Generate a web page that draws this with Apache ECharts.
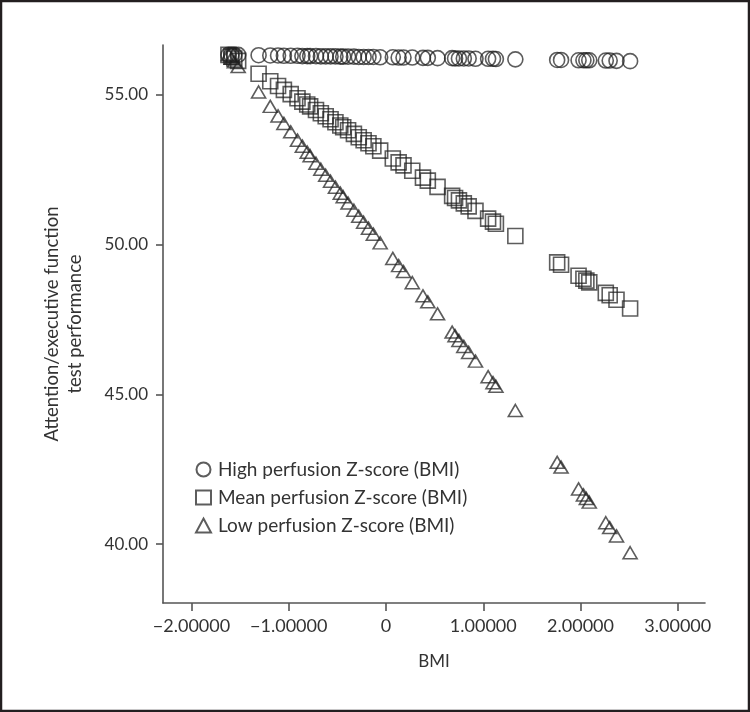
<!DOCTYPE html>
<html>
<head>
<meta charset="utf-8">
<script src="https://cdn.jsdelivr.net/npm/echarts@6/dist/echarts.min.js"></script>
<style>
  html, body { margin: 0; padding: 0; background: #fff; }
  #chart { width: 750px; height: 712px; }
</style>
</head>
<body>
<div id="chart"></div>
<script>
  // BMI z-scores (shared by the three perfusion levels)
  const bmi = [
    -1.62, -1.59, -1.56, -1.52, -1.31, -1.19, -1.11, -1.05, -0.98, -0.91,
    -0.86, -0.81, -0.78, -0.72, -0.67, -0.62, -0.57, -0.52, -0.47, -0.44,
    -0.39, -0.33, -0.28, -0.23, -0.18, -0.13, -0.06, 0.07, 0.13, 0.18,
    0.27, 0.38, 0.43, 0.53, 0.68, 0.71, 0.75, 0.80, 0.85, 0.92,
    1.05, 1.10, 1.13, 1.33, 1.76, 1.80, 1.98, 2.03, 2.06, 2.09,
    2.26, 2.30, 2.37, 2.51
  ];
  const highPerf = [
    56.34, 56.34, 56.34, 56.34, 56.33, 56.32, 56.32, 56.31, 56.31, 56.31,
    56.30, 56.30, 56.30, 56.30, 56.29, 56.29, 56.29, 56.29, 56.28, 56.28,
    56.28, 56.28, 56.27, 56.27, 56.27, 56.27, 56.26, 56.26, 56.25, 56.25,
    56.25, 56.24, 56.24, 56.23, 56.23, 56.22, 56.22, 56.22, 56.22, 56.21,
    56.21, 56.21, 56.20, 56.19, 56.17, 56.17, 56.16, 56.16, 56.16, 56.16,
    56.15, 56.15, 56.14, 56.13
  ];
  const meanPerf = [
    56.34, 56.28, 56.22, 56.14, 55.71, 55.46, 55.30, 55.17, 55.03, 54.89,
    54.78, 54.68, 54.62, 54.50, 54.39, 54.29, 54.19, 54.09, 53.98, 53.92,
    53.82, 53.70, 53.59, 53.49, 53.39, 53.29, 53.14, 52.88, 52.75, 52.65,
    52.47, 52.24, 52.14, 51.93, 51.63, 51.56, 51.48, 51.38, 51.28, 51.13,
    50.87, 50.77, 50.70, 50.29, 49.41, 49.33, 48.96, 48.86, 48.80, 48.74,
    48.39, 48.31, 48.16, 47.87
  ];
  const lowPerf = [
    56.35, 56.23, 56.11, 55.95, 55.10, 54.62, 54.30, 54.05, 53.77, 53.49,
    53.29, 53.09, 52.97, 52.72, 52.52, 52.32, 52.12, 51.92, 51.72, 51.60,
    51.39, 51.15, 50.95, 50.75, 50.55, 50.35, 50.06, 49.54, 49.30, 49.10,
    48.73, 48.29, 48.09, 47.69, 47.08, 46.96, 46.80, 46.60, 46.40, 46.11,
    45.59, 45.39, 45.27, 44.46, 42.73, 42.57, 41.84, 41.64, 41.52, 41.40,
    40.71, 40.55, 40.27, 39.71
  ];
  const xTicks = [-2, -1, 0, 1, 2, 3];
  const yTicks = [40, 45, 50, 55];
  const seriesNames = [
    'High perfusion Z-score (BMI)',
    'Mean perfusion Z-score (BMI)',
    'Low perfusion Z-score (BMI)'
  ];

  const font = 'Lato, "Open Sans", sans-serif';
  const ink = '#333';
  const edge = 'rgba(30,30,30,0.9)';

  const pairs = ys => bmi.map((x, i) => [x, ys[i]]);
  const hollow = { color: 'rgba(0,0,0,0)', borderColor: edge, borderWidth: 1.6 };

  const chart = echarts.init(document.getElementById('chart'), null, { renderer: 'canvas' });

  const option = {
    backgroundColor: '#fff',
    animation: false,
    textStyle: { fontFamily: font },
    graphic: [{
      type: 'rect',
      shape: { x: 1, y: 1, width: 748, height: 710 },
      style: { fill: 'none', stroke: '#231f20', lineWidth: 2.5 }
    }],
    grid: { left: 163, right: 45, top: 45, bottom: 109 },
    legend: {
      orient: 'vertical',
      left: 190,
      top: 455,
      itemWidth: 15,
      itemHeight: 14,
      itemGap: 9,
      data: [
        { name: seriesNames[0], icon: 'circle' },
        { name: seriesNames[1], icon: 'rect' },
        { name: seriesNames[2], icon: 'triangle' }
      ],
      textStyle: { fontFamily: font, fontSize: 19, color: ink, padding: [0, 0, 0, 2] }
    },
    xAxis: {
      type: 'value',
      min: -2.293,
      max: 3.28,
      name: 'BMI',
      nameLocation: 'middle',
      nameGap: 50,
      nameTextStyle: { fontFamily: font, fontSize: 17, color: ink },
      splitLine: { show: false },
      axisLine: { onZero: false, lineStyle: { color: '#555', width: 1.6 } },
      axisTick: { customValues: xTicks, length: 8, lineStyle: { color: '#555', width: 1.6 } },
      axisLabel: {
        customValues: xTicks,
        margin: 14,
        fontSize: 18,
        color: ink,
        formatter: v => v === 0 ? '0' : v.toFixed(5).replace('-', '\u2212')
      }
    },
    yAxis: {
      type: 'value',
      min: 38.03,
      max: 56.67,
      name: 'Attention/executive function\ntest performance',
      nameLocation: 'middle',
      nameGap: 76,
      nameTextStyle: { fontFamily: font, fontSize: 18.5, color: ink, lineHeight: 23, align: 'center' },
      splitLine: { show: false },
      axisLine: { show: true, onZero: false, lineStyle: { color: '#555', width: 1.6 } },
      axisTick: { show: true, customValues: yTicks, length: 7, lineStyle: { color: '#555', width: 1.6 } },
      axisLabel: {
        customValues: yTicks,
        margin: 15,
        fontSize: 17,
        color: ink,
        formatter: v => v.toFixed(2)
      }
    },
    series: [
      {
        name: seriesNames[0],
        type: 'scatter',
        symbol: 'circle',
        symbolSize: 15,
        itemStyle: hollow,
        data: pairs(highPerf)
      },
      {
        name: seriesNames[1],
        type: 'scatter',
        symbol: 'rect',
        symbolSize: 15,
        itemStyle: hollow,
        data: pairs(meanPerf)
      },
      {
        name: seriesNames[2],
        type: 'scatter',
        symbol: 'triangle',
        symbolSize: [14, 12],
        itemStyle: hollow,
        data: pairs(lowPerf)
      }
    ]
  };

  chart.setOption(option);
</script>
</body>
</html>
